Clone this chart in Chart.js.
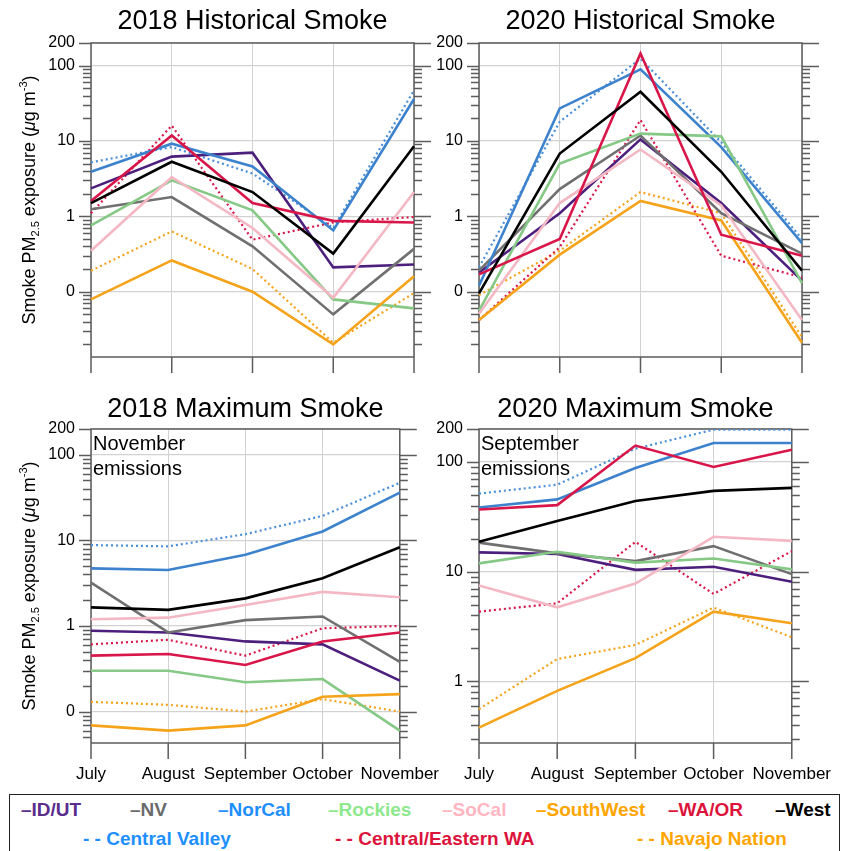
<!DOCTYPE html>
<html>
<head>
<meta charset="utf-8">
<script src="https://cdn.jsdelivr.net/npm/chart.js@4.4.1/dist/chart.umd.min.js"></script>
<style>
body { margin:0; background:#fff; }
#wrap { position:relative; width:852px; height:851px; overflow:hidden; font-family:"Liberation Sans", Arial, sans-serif; }
canvas { position:absolute; }
#legendBox { position:absolute; left:9px; top:794px; width:831px; height:80px; border:1.5px solid #222; box-sizing:border-box; }
.item { position:absolute; font-weight:bold; font-size:19px; white-space:nowrap; line-height:1; transform:translateY(-50%); }
</style>
</head>
<body>
<div id="wrap">
  <canvas id="c1" width="460" height="390" style="left:0;top:0"></canvas>
  <canvas id="c2" width="463" height="390" style="left:389px;top:0"></canvas>
  <canvas id="c3" width="460" height="400" style="left:0;top:390px"></canvas>
  <canvas id="c4" width="463" height="400" style="left:389px;top:390px"></canvas>
  <div id="legendBox"></div>
</div>
<script>
const months = ['July', 'August', 'September', 'October', 'November'];
const regions = ['ID/UT', 'NV', 'NorCal', 'Rockies', 'SoCal', 'SouthWest', 'WA/OR', 'West',
                 'Central Valley', 'Central/Eastern WA', 'Navajo Nation'];
const yTicks = [200, 100, 10, 1, 0.1];

// one row per region, in the order of `regions`
const hist2018 = [
    [2.35, 6.2, 7.0, 0.21, 0.23],
    [1.24, 1.8, 0.40, 0.050, 0.37],
    [3.9, 9.2, 4.6, 0.65, 36],
    [0.76, 3.0, 1.2, 0.079, 0.060],
    [0.35, 3.3, 0.7, 0.083, 2.1],
    [0.079, 0.26, 0.10, 0.020, 0.16],
    [1.6, 11.8, 1.5, 0.87, 0.83],
    [1.5, 5.3, 2.1, 0.32, 8.5],
    [5.2, 8.3, 3.7, 0.7, 47],
    [1.1, 16, 0.49, 0.83, 0.98],
    [0.19, 0.63, 0.20, 0.021, 0.096]
];
const hist2020 = [
    [0.18, 1.1, 10.5, 1.5, 0.14],
    [0.19, 2.3, 11.8, 1.1, 0.32],
    [0.12, 27, 89, 8.3, 0.44],
    [0.056, 5.0, 12.5, 11.5, 0.13],
    [0.051, 1.5, 7.7, 1.4, 0.042],
    [0.042, 0.31, 1.6, 0.88, 0.021],
    [0.17, 0.50, 145, 0.57, 0.30],
    [0.095, 6.8, 45, 3.9, 0.19],
    [0.21, 18, 124, 9.6, 0.5],
    [0.042, 0.39, 19, 0.30, 0.155],
    [0.09, 0.35, 2.1, 1.1, 0.025]
];
const max2018 = [
    [0.88, 0.84, 0.66, 0.61, 0.23],
    [3.2, 0.84, 1.17, 1.29, 0.38],
    [4.7, 4.5, 6.8, 12.7, 36],
    [0.30, 0.30, 0.22, 0.24, 0.060],
    [1.2, 1.25, 1.76, 2.5, 2.16],
    [0.069, 0.060, 0.069, 0.149, 0.16],
    [0.45, 0.47, 0.35, 0.66, 0.84],
    [1.65, 1.54, 2.1, 3.6, 8.3],
    [8.8, 8.5, 11.8, 19.3, 47],
    [0.61, 0.69, 0.45, 0.94, 1.0],
    [0.13, 0.12, 0.10, 0.14, 0.10]
];
const max2020 = [
    [15, 14.5, 10.4, 11.1, 8.1],
    [18.4, 14.7, 12.5, 17.1, 9.5],
    [38.5, 45.6, 88, 149, 149],
    [11.9, 15.2, 12.1, 13.2, 10.5],
    [7.5, 4.74, 7.8, 20.8, 19.1],
    [0.38, 0.82, 1.63, 4.33, 3.39],
    [36.9, 40.4, 141, 90, 129],
    [18.7, 29, 44, 54.5, 58],
    [51.5, 62, 132, 197, 197],
    [4.33, 5.15, 18.7, 6.27, 15.4],
    [0.56, 1.6, 2.15, 4.71, 2.53]
];

const lineColors = ['#4d1f7d', '#707070', '#3d82cc', '#86c986', '#f3b8c4', '#f5a31a', '#d9164a', '#000000',
                    '#4a8fd8', '#d9164a', '#f5a31a'];
const legendColors = ['#5a2d8c', '#6b6b6b', '#1e8fff', '#8ee88e', '#ffb6c1', '#ffa500', '#dc143c', '#000000',
                      '#1e8fff', '#dc143c', '#ffa500'];

const FONT = '"Liberation Sans", Arial, sans-serif';
Chart.defaults.font.family = FONT;
Chart.defaults.color = '#000';

// frame, log tick marks, y title and note
const framePlugin = {
    id: 'frame',
    beforeDatasetsDraw(chart) {
        const {ctx, chartArea: a, scales: {x, y}} = chart;
        ctx.save();
        ctx.strokeStyle = '#5c5c5c';
        ctx.lineWidth = 1.5;
        ctx.beginPath();
        ctx.rect(a.left, a.top, a.right - a.left, a.bottom - a.top);
        const lo = Math.floor(Math.log10(y.min)), hi = Math.ceil(Math.log10(y.max));
        for (let e = lo; e <= hi; e++) {
            for (let m = 1; m <= 9; m++) {
                const v = m * Math.pow(10, e);
                if (v < y.min || v > y.max * 1.0001) continue;
                const py = Math.round(y.getPixelForValue(v)) + 0.5;
                const major = yTicks.some(t => Math.abs(t - v) / t < 1e-6);
                ctx.moveTo(a.left - (major ? 12 : 8), py); ctx.lineTo(a.left, py);
                ctx.moveTo(a.right, py); ctx.lineTo(a.right + (major ? 17 : 8), py);
            }
        }
        months.forEach((m, i) => {
            const px = x.getPixelForValue(i);
            ctx.moveTo(px, a.bottom); ctx.lineTo(px, a.bottom + 16);
        });
        ctx.stroke();
        ctx.restore();
    },
    afterDraw(chart, args, opts) {
        const {ctx, chartArea: a} = chart;
        ctx.save();
        ctx.fillStyle = '#000';
        if (opts.yTitle) {
            const parts = [
                {t: 'Smoke PM', f: '18px ' + FONT, dy: 6.5},
                {t: '2.5', f: '11px ' + FONT, dy: 10.5},
                {t: ' exposure (', f: '18px ' + FONT, dy: 6.5},
                {t: '\u03bc', f: 'italic 18px ' + FONT, dy: 6.5},
                {t: 'g m', f: '18px ' + FONT, dy: 6.5},
                {t: '-3', f: '11px ' + FONT, dy: -1},
                {t: ')', f: '18px ' + FONT, dy: 6.5}
            ];
            let total = 0;
            parts.forEach(p => { ctx.font = p.f; p.w = ctx.measureText(p.t).width; total += p.w; });
            ctx.translate(28, (a.top + a.bottom) / 2);
            ctx.rotate(-Math.PI / 2);
            ctx.textBaseline = 'alphabetic';
            let cx = -total / 2;
            parts.forEach(p => { ctx.font = p.f; ctx.fillText(p.t, cx, p.dy); cx += p.w; });
            ctx.setTransform(1, 0, 0, 1, 0, 0);
        }
        if (opts.note) {
            ctx.font = '20px ' + FONT;
            ctx.textBaseline = 'alphabetic';
            opts.note.forEach((line, i) => ctx.fillText(line, a.left + 2, a.top + 21 + i * 25));
        }
        ctx.restore();
    }
};

function makePanel(id, title, rows, yMin, cfg) {
    const datasets = rows.map((vals, i) => {
        const dotted = i >= 8;
        return {
            label: regions[i],
            data: vals,
            borderColor: lineColors[i],
            borderWidth: dotted ? 2.2 : 2.6,
            borderDash: dotted ? [2, 3] : [],
            pointRadius: 0,
            tension: 0,
            order: dotted ? 30 + i : 20 - i
        };
    });
    return new Chart(document.getElementById(id), {
        type: 'line',
        data: { labels: months, datasets: datasets },
        plugins: [framePlugin],
        options: {
            responsive: false,
            animation: false,
            layout: { padding: { left: 0, top: 0, right: cfg.right, bottom: 0 } },
            plugins: {
                legend: { display: false },
                tooltip: { enabled: false },
                title: {
                    display: true,
                    text: title,
                    fullSize: false,
                    font: { size: 27, weight: 'normal' },
                    color: '#000',
                    padding: { top: cfg.titleTop, bottom: cfg.titleBottom }
                },
                frame: { yTitle: cfg.yTitle, note: cfg.note }
            },
            scales: {
                x: {
                    grid: { color: '#d2d2d2', lineWidth: 1, drawTicks: false },
                    border: { display: false },
                    ticks: { display: cfg.xLabels, font: { size: 17 }, padding: 21, maxRotation: 0, autoSkip: false, color: '#000' },
                    afterFit: s => { s.height = cfg.xHeight; }
                },
                y: {
                    type: 'logarithmic',
                    min: yMin,
                    max: 200,
                    grid: { color: '#d2d2d2', lineWidth: 1.3, drawTicks: false },
                    border: { display: false },
                    afterBuildTicks: s => { s.ticks = yTicks.filter(v => v >= yMin).map(v => ({ value: v })); },
                    ticks: {
                        font: { size: 16 },
                        padding: 16,
                        color: '#000',
                        callback: v => (v === 0.1 ? '0' : String(v))
                    },
                    afterFit: s => { s.width = cfg.yWidth; }
                }
            }
        }
    });
}

makePanel('c1', '2018 Historical Smoke', hist2018, 0.0136,
    { right: 46, titleTop: 5.5, titleBottom: 5, xHeight: 33, yWidth: 91, xLabels: false, yTitle: true });
makePanel('c2', '2020 Historical Smoke', hist2020, 0.0136,
    { right: 50, titleTop: 5.5, titleBottom: 5, xHeight: 33, yWidth: 90, xLabels: false, yTitle: false });
makePanel('c3', '2018 Maximum Smoke', max2018, 0.043,
    { right: 46, titleTop: 3.5, titleBottom: 3, xHeight: 47, yWidth: 91, xLabels: true, yTitle: true,
      note: ['November', 'emissions'] });
makePanel('c4', '2020 Maximum Smoke', max2020, 0.275,
    { right: 50, titleTop: 3.5, titleBottom: 3, xHeight: 47, yWidth: 90, xLabels: true, yTitle: false,
      note: ['September', 'emissions'] });

// legend
const legendX = [21, 130, 218, 328, 442, 536, 668, 775, 83, 335, 637];
const wrap = document.getElementById('wrap');
regions.forEach((r, i) => {
    const el = document.createElement('div');
    el.className = 'item';
    el.style.left = legendX[i] + 'px';
    el.style.top = (i < 8 ? 809 : 838) + 'px';
    el.style.color = legendColors[i];
    el.textContent = (i < 8 ? '\u2013' : '- - ') + r;
    wrap.appendChild(el);
});
</script>
</body>
</html>
